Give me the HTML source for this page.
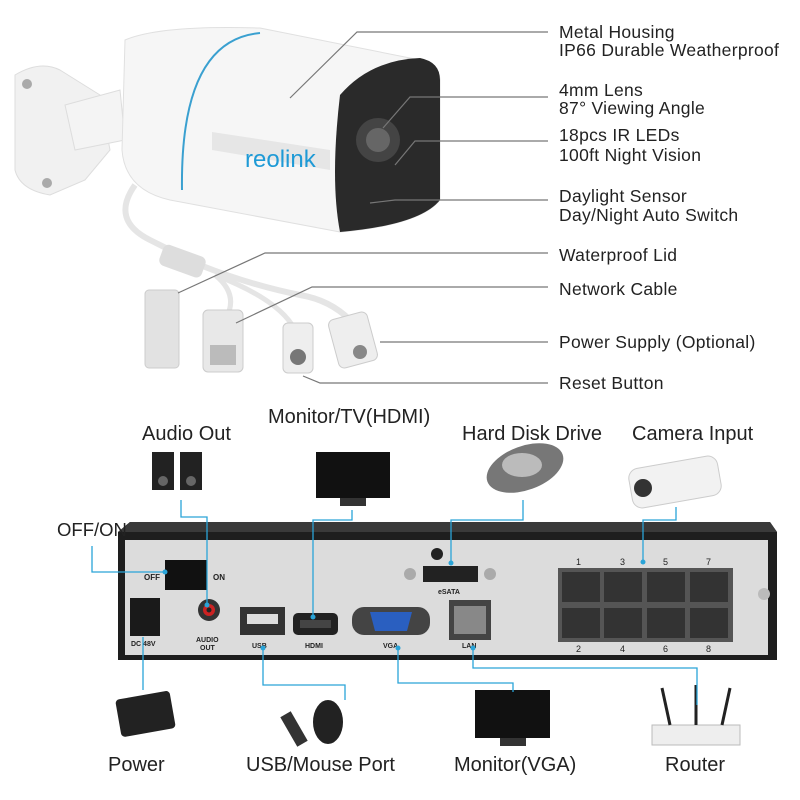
<!DOCTYPE html>
<html><head><meta charset="utf-8"><style>
body{margin:0;background:#fff;width:800px;height:800px;overflow:hidden;position:relative;font-family:"Liberation Sans",sans-serif}
.t{position:absolute;font-size:17.5px;color:#222;white-space:nowrap;letter-spacing:0.3px;line-height:18px}
.b{position:absolute;font-size:20px;color:#222;white-space:nowrap}
</style></head><body>
<svg width="800" height="800" style="position:absolute;left:0;top:0">
<path d="M15 75 Q40 60 60 70 L100 95 L110 150 L85 180 L50 195 Q20 190 15 170 Z" fill="#f1f1f1" stroke="#ddd"/>
<circle cx="27" cy="84" r="5" fill="#aaa"/><circle cx="47" cy="183" r="5" fill="#aaa"/>
<path d="M65 105 L120 90 L125 140 L75 150 Z" fill="#f4f4f4" stroke="#ddd"/>
<path d="M125 40 Q160 25 260 28 L420 60 Q440 70 440 80 L440 200 Q420 225 340 232 L170 200 Q125 190 122 150 Z" fill="#f6f6f6" stroke="#e0e0e0"/>
<path d="M260 33 Q180 40 182 190" fill="none" stroke="#3aa0d0" stroke-width="2"/>
<path d="M212 132 L330 150 L330 170 L212 150 Z" fill="#e6e6e6"/>
<text x="245" y="167" font-family="Liberation Sans" font-size="24" fill="#1e9ad6">reolink</text>
<path d="M340 95 Q370 60 420 58 Q440 62 440 80 L440 200 Q420 225 340 232 Q330 180 340 95 Z" fill="#2a2a2a"/>
<circle cx="378" cy="140" r="22" fill="#444"/><circle cx="378" cy="140" r="12" fill="#666"/>
<path d="M135 185 Q110 220 150 240 L200 265 Q250 285 300 295 Q330 300 350 320" fill="none" stroke="#e5e5e5" stroke-width="6"/>
<path d="M215 275 Q240 295 225 320 M215 275 Q280 300 295 330" fill="none" stroke="#e5e5e5" stroke-width="5"/>
<rect x="160" y="250" width="45" height="22" rx="6" fill="#ddd" transform="rotate(20 182 261)"/>
<rect x="145" y="290" width="34" height="78" rx="4" fill="#e2e2e2" stroke="#ccc"/>
<rect x="203" y="310" width="40" height="62" rx="5" fill="#e8e8e8" stroke="#ccc"/>
<rect x="210" y="345" width="26" height="20" fill="#bbb"/>
<rect x="283" y="323" width="30" height="50" rx="5" fill="#eee" stroke="#ccc"/>
<circle cx="298" cy="357" r="8" fill="#777"/>
<rect x="333" y="315" width="40" height="50" rx="6" fill="#eee" stroke="#ccc" transform="rotate(-15 353 340)"/>
<circle cx="360" cy="352" r="7" fill="#888"/>
<g stroke="#777" stroke-width="1.2" fill="none">
<polyline points="290,98 357,32 548,32"/>
<polyline points="383,128 410,97 548,97"/>
<polyline points="395,165 415,141 548,141"/>
<polyline points="370,203 395,200 548,200"/>
<polyline points="178,293 265,253 548,253"/>
<polyline points="236,323 312,287 548,287"/>
<polyline points="380,342 548,342"/>
<polyline points="303,376 320,383 548,383"/>
</g>
<path d="M118 532 L130 522 L770 522 L777 532 L777 660 L118 660 Z" fill="#1e1e1e"/>
<path d="M130 522 L770 522 L777 532 L118 532 Z" fill="#3a3a3a"/>
<rect x="125" y="540" width="643" height="115" fill="#dcdcdc"/>
<rect x="165" y="560" width="42" height="30" fill="#111"/>
<text x="144" y="580" font-size="8" font-weight="bold" fill="#222">OFF</text>
<text x="213" y="580" font-size="8" font-weight="bold" fill="#222">ON</text>
<rect x="130" y="598" width="30" height="38" fill="#1a1a1a"/>
<text x="131" y="646" font-size="7" font-weight="bold" fill="#222">DC 48V</text>
<circle cx="209" cy="610" r="11" fill="#333"/><circle cx="209" cy="610" r="6" fill="#c22"/><circle cx="209" cy="610" r="2.5" fill="#222"/>
<text x="196" y="642" font-size="7" font-weight="bold" fill="#222">AUDIO</text>
<text x="200" y="650" font-size="7" font-weight="bold" fill="#222">OUT</text>
<rect x="240" y="607" width="45" height="28" fill="#333"/><rect x="247" y="614" width="31" height="10" fill="#ddd"/>
<text x="252" y="648" font-size="7" font-weight="bold" fill="#222">USB</text>
<rect x="293" y="613" width="45" height="22" rx="5" fill="#222"/><rect x="300" y="620" width="31" height="8" fill="#444"/>
<text x="305" y="648" font-size="7" font-weight="bold" fill="#222">HDMI</text>
<rect x="352" y="607" width="78" height="28" rx="12" fill="#444"/><path d="M370 612 L412 612 L407 631 L375 631 Z" fill="#2a5fc0"/>
<text x="383" y="648" font-size="7" font-weight="bold" fill="#222">VGA</text>
<rect x="449" y="600" width="42" height="40" fill="#444"/><rect x="454" y="606" width="32" height="28" fill="#888"/>
<text x="462" y="648" font-size="7" font-weight="bold" fill="#222">LAN</text>
<rect x="423" y="566" width="55" height="16" fill="#222"/>
<circle cx="410" cy="574" r="6" fill="#aaa"/><circle cx="490" cy="574" r="6" fill="#aaa"/>
<circle cx="437" cy="554" r="6" fill="#222"/>
<text x="438" y="594" font-size="7" font-weight="bold" fill="#222">eSATA</text>
<rect x="558" y="568" width="175" height="74" fill="#555"/>
<g fill="#333">
<rect x="562" y="572" width="38" height="30"/><rect x="604" y="572" width="38" height="30"/><rect x="647" y="572" width="38" height="30"/><rect x="690" y="572" width="38" height="30"/>
<rect x="562" y="608" width="38" height="30"/><rect x="604" y="608" width="38" height="30"/><rect x="647" y="608" width="38" height="30"/><rect x="690" y="608" width="38" height="30"/>
</g>
<g font-size="9" fill="#222"><text x="576" y="565">1</text><text x="620" y="565">3</text><text x="663" y="565">5</text><text x="706" y="565">7</text>
<text x="576" y="652">2</text><text x="620" y="652">4</text><text x="663" y="652">6</text><text x="706" y="652">8</text></g>
<circle cx="764" cy="594" r="6" fill="#bbb"/>
<rect x="152" y="452" width="22" height="38" fill="#222"/><rect x="180" y="452" width="22" height="38" fill="#222"/>
<circle cx="163" cy="481" r="5" fill="#666"/><circle cx="191" cy="481" r="5" fill="#666"/>
<rect x="316" y="452" width="74" height="46" fill="#111"/><rect x="340" y="498" width="26" height="8" fill="#333"/>
<ellipse cx="525" cy="468" rx="40" ry="22" fill="#777" transform="rotate(-20 525 468)"/><ellipse cx="522" cy="465" rx="20" ry="12" fill="#bbb"/>
<rect x="630" y="462" width="90" height="40" rx="10" fill="#f2f2f2" stroke="#ccc" transform="rotate(-10 675 482)"/>
<circle cx="643" cy="488" r="9" fill="#333"/>
<rect x="118" y="695" width="55" height="38" rx="4" fill="#222" transform="rotate(-10 145 714)"/>
<rect x="288" y="712" width="12" height="34" fill="#333" transform="rotate(-30 294 729)"/>
<ellipse cx="328" cy="722" rx="15" ry="22" fill="#222"/>
<rect x="475" y="690" width="75" height="48" fill="#111"/><rect x="500" y="738" width="26" height="8" fill="#333"/>
<rect x="652" y="725" width="88" height="20" fill="#eee" stroke="#bbb"/>
<line x1="670" y1="725" x2="662" y2="688" stroke="#222" stroke-width="3"/><line x1="696" y1="725" x2="696" y2="685" stroke="#222" stroke-width="3"/><line x1="722" y1="725" x2="730" y2="688" stroke="#222" stroke-width="3"/>
<g stroke="#2aa4d8" stroke-width="1.3" fill="none">
<polyline points="181,500 181,517 207,517 207,605"/>
<polyline points="352,510 352,520 313,520 313,617"/>
<polyline points="523,500 523,520 451,520 451,563"/>
<polyline points="676,507 676,520 643,520 643,562"/>
<polyline points="92,546 92,572 165,572"/>
<polyline points="143,637 143,690"/>
<polyline points="263,648 263,685 345,685 345,700"/>
<polyline points="398,648 398,683 513,683 513,692"/>
<polyline points="473,648 473,668 697,668 697,705"/>
</g>
<g fill="#2aa4d8"><circle cx="207" cy="605" r="2.5"/><circle cx="313" cy="617" r="2.5"/><circle cx="451" cy="563" r="2.5"/><circle cx="643" cy="562" r="2.5"/><circle cx="165" cy="572" r="2.5"/><circle cx="263" cy="648" r="2.5"/><circle cx="398" cy="648" r="2.5"/><circle cx="473" cy="648" r="2.5"/></g>
</svg>
<div class="t" style="left:559px;top:23px">Metal Housing</div>
<div class="t" style="left:559px;top:41px">IP66 Durable Weatherproof</div>
<div class="t" style="left:559px;top:81px">4mm Lens</div>
<div class="t" style="left:559px;top:99px">87° Viewing Angle</div>
<div class="t" style="left:559px;top:126px">18pcs IR LEDs</div>
<div class="t" style="left:559px;top:146px">100ft Night Vision</div>
<div class="t" style="left:559px;top:187px">Daylight Sensor</div>
<div class="t" style="left:559px;top:206px">Day/Night Auto Switch</div>
<div class="t" style="left:559px;top:246px">Waterproof Lid</div>
<div class="t" style="left:559px;top:280px">Network Cable</div>
<div class="t" style="left:559px;top:333px">Power Supply (Optional)</div>
<div class="t" style="left:559px;top:374px">Reset Button</div>
<div class="b" style="left:142px;top:423px">Audio Out</div>
<div class="b" style="left:268px;top:406px">Monitor/TV(HDMI)</div>
<div class="b" style="left:462px;top:423px">Hard Disk Drive</div>
<div class="b" style="left:632px;top:423px">Camera Input</div>
<div class="b" style="left:57px;top:519px;font-size:18.5px">OFF/ON</div>
<div class="b" style="left:108px;top:754px">Power</div>
<div class="b" style="left:246px;top:754px">USB/Mouse Port</div>
<div class="b" style="left:454px;top:754px">Monitor(VGA)</div>
<div class="b" style="left:665px;top:754px">Router</div>
</body></html>
